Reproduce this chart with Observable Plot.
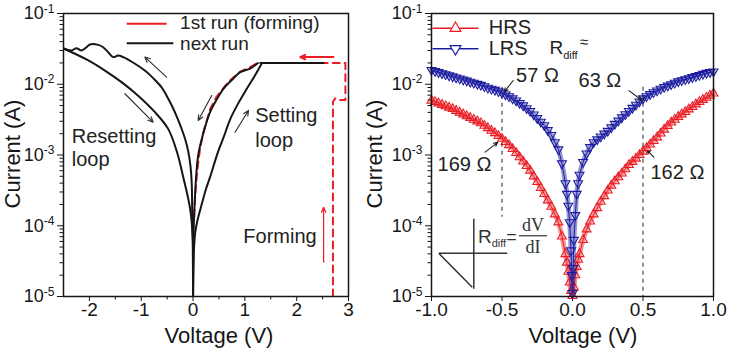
<!DOCTYPE html>
<html><head><meta charset="utf-8">
<script src="https://cdn.jsdelivr.net/npm/d3@7"></script>
<script src="https://cdn.jsdelivr.net/npm/@observablehq/plot@0.6"></script>
<style>
html,body{margin:0;padding:0;background:#fff;}
#wrap{display:flex;width:732px;height:350px;}
svg text{font-family:'Liberation Sans',Arial,sans-serif;}
</style></head><body><div id="wrap"></div>
<script>
// ================= LEFT PANEL DATA =================
const setV = [0, 0.005, 0.02, 0.04, 0.08, 0.17, 0.25, 0.33, 0.48, 0.60, 0.72, 0.88, 1.04, 1.20, 1.33];
const setI = [1.0e-5, 2.5e-5, 5.0e-5, 7.8e-5, 1.15e-4, 2.04e-4, 3.3e-4, 4.9e-4, 1.1e-3, 1.86e-3, 3.24e-3, 5.5e-3, 8.7e-3, 1.35e-2, 2.0e-2];
const compV = [1.30, 2.52];
const compI = [2.0e-2, 2.0e-2];
const retV = [1.25, 1.10, 0.91, 0.75, 0.59, 0.45, 0.33, 0.24, 0.17, 0.10, 0.06, 0.03, 0.01, 0];
const retI = [2.0e-2, 1.66e-2, 1.48e-2, 1.15e-2, 8.7e-3, 6.0e-3, 4.07e-3, 2.6e-3, 1.7e-3, 1.0e-3, 5.0e-4, 2.0e-4, 8.0e-5, 1.0e-5];
const resetUpV = [0, -0.005, -0.015, -0.025, -0.05, -0.09, -0.15, -0.22, -0.30, -0.41, -0.51, -0.61, -0.76, -0.93, -1.12, -1.348, -1.445, -1.54, -1.638, -1.735, -1.83, -1.99, -2.056, -2.153, -2.25, -2.347, -2.5];
const resetUpI = [1.0e-5, 5.0e-5, 1.1e-4, 3.9e-4, 7.0e-4, 1.1e-3, 1.66e-3, 2.34e-3, 3.3e-3, 5.0e-3, 6.9e-3, 9.1e-3, 1.2e-2, 1.56e-2, 1.95e-2, 2.42e-2, 2.55e-2, 2.42e-2, 2.84e-2, 3.34e-2, 3.6e-2, 3.65e-2, 3.34e-2, 3.0e-2, 3.24e-2, 3.0e-2, 3.2e-2];
const resetDownV = [-2.5, -2.03, -1.70, -1.38, -1.06, -0.735, -0.48, -0.31, -0.19, -0.06, -0.005, 0];
const resetDownI = [3.2e-2, 2.19e-2, 1.56e-2, 1.07e-2, 6.9e-3, 4.03e-3, 2.34e-3, 1.1e-3, 4.9e-4, 1.8e-4, 7.0e-5, 1.0e-5];
const formV = [2.70, 2.70, 2.74, 2.80, 2.94, 2.94, 1.25, 1.10, 0.91, 0.75, 0.62, 0.45, 0.33, 0.20, 0.135, 0.08, 0.04, 0.02];
const formI = [1.0e-5, 5.6e-3, 6.3e-3, 6.0e-3, 6.0e-3, 2.0e-2, 2.0e-2, 1.74e-2, 1.51e-2, 1.2e-2, 9.5e-3, 6.6e-3, 4.47e-3, 2.09e-3, 1.23e-3, 6.0e-4, 2.5e-4, 1.2e-4];
const leftLabelText = ["Resetting", "loop", "Setting", "loop", "Forming"];
const leftLabelV = [-2.34, -2.34, 1.20, 1.20, 0.97];
const leftLabelI = [1.85e-3, 8.6e-4, 3.55e-3, 1.58e-3, 7.1e-5];
const blackArrowV1 = [-0.51, -1.315, 0.36, 0.81];
const blackArrowI1 = [1.26e-2, 7.33e-3, 6.93e-3, 2.1e-3];
const blackArrowV2 = [-0.93, -0.77, 0.10, 1.07];
const blackArrowI2 = [2.42e-2, 2.91e-3, 3.08e-3, 4.26e-3];
const redArrowV1 = [2.71, 2.52];
const redArrowI1 = [2.42e-2, 3.05e-5];
const redArrowV2 = [2.07, 2.52];
const redArrowI2 = [2.42e-2, 1.82e-4];
const leftLegendText = ["1st run (forming)", "next run"];
const leftLegendV = [-0.25, -0.25];
const leftLegendI = [7.3e-2, 3.74e-2];
const leftLegendLineV = [[-1.28, -0.51], [-1.28, -0.38]];
const leftLegendLineI = [7.15e-2, 3.8e-2];
const leftXTicks = [-2, -1, 0, 1, 2, 3];
const leftXMinor = [-1.5, -0.5, 0.5, 1.5, 2.5];

// ================= RIGHT PANEL DATA =================
const hrsV = [-1.000,-0.975,-0.950,-0.925,-0.900,-0.875,-0.850,-0.825,-0.800,-0.775,-0.750,-0.725,-0.700,-0.675,-0.650,-0.625,-0.600,-0.575,-0.550,-0.525,-0.500,-0.475,-0.450,-0.425,-0.400,-0.375,-0.350,-0.325,-0.300,-0.275,-0.250,-0.225,-0.200,-0.175,-0.150,-0.125,-0.100,
  -0.075,-0.05,-0.04,-0.03,-0.02,-0.01, 0, 0.01,0.02,0.03,0.04,0.05,0.075,
  0.100,0.125,0.150,0.175,0.200,0.225,0.250,0.275,0.300,0.325,0.350,0.375,0.400,0.425,0.450,0.475,0.500,0.525,0.550,0.575,0.600,0.625,0.650,0.675,0.700,0.725,0.750,0.775,0.800,0.825,0.850,0.875,0.900,0.925,0.950,0.975,1.000];
const hrsI = [5.89e-3,5.63e-3,5.37e-3,5.13e-3,4.90e-3,4.68e-3,4.47e-3,4.22e-3,3.98e-3,3.76e-3,3.55e-3,3.35e-3,3.16e-3,2.99e-3,2.82e-3,2.60e-3,2.40e-3,2.21e-3,2.04e-3,1.86e-3,1.70e-3,1.53e-3,1.38e-3,1.22e-3,1.07e-3,9.3e-4,8.13e-4,7.0e-4,6.03e-4,5.0e-4,4.17e-4,3.43e-4,2.82e-4,2.29e-4,1.86e-4,1.45e-4,1.12e-4,
  7.08e-5,3.98e-5,3.02e-5,2.24e-5,1.58e-5,1.20e-5, 1.02e-5, 1.35e-5,2.0e-5,2.63e-5,3.31e-5,3.98e-5,6.31e-5,
  8.91e-5,1.15e-4,1.45e-4,1.78e-4,2.19e-4,2.63e-4,3.16e-4,3.7e-4,4.27e-4,4.85e-4,5.50e-4,6.3e-4,7.24e-4,8.0e-4,8.91e-4,1.0e-3,1.12e-3,1.26e-3,1.41e-3,1.58e-3,1.78e-3,2.02e-3,2.29e-3,2.57e-3,2.88e-3,3.16e-3,3.47e-3,3.76e-3,4.07e-3,4.42e-3,4.79e-3,5.2e-3,5.62e-3,6.03e-3,6.46e-3,6.92e-3,7.41e-3];
const lrsV = [-1.000,-0.975,-0.950,-0.925,-0.900,-0.875,-0.850,-0.825,-0.800,-0.775,-0.750,-0.725,-0.700,-0.675,-0.650,-0.625,-0.600,-0.575,-0.550,-0.525,-0.500,-0.475,-0.450,-0.425,-0.400,-0.375,-0.350,-0.325,-0.300,-0.275,-0.250,-0.225,-0.200,-0.175,-0.150,-0.125,-0.100,
  -0.075,-0.05,-0.04,-0.03,-0.02,-0.01,-0.005, 0, 0.005,0.01,0.02,0.03,0.04,0.05,0.075,
  0.100,0.125,0.150,0.175,0.200,0.225,0.250,0.275,0.300,0.325,0.350,0.375,0.400,0.425,0.450,0.475,0.500,0.525,0.550,0.575,0.600,0.625,0.650,0.675,0.700,0.725,0.750,0.775,0.800,0.825,0.850,0.875,0.900,0.925,0.950,0.975,1.000];
const lrsI = [1.585e-2,1.53e-2,1.479e-2,1.43e-2,1.380e-2,1.33e-2,1.288e-2,1.245e-2,1.202e-2,1.16e-2,1.122e-2,1.085e-2,1.047e-2,1.01e-2,9.77e-3,9.33e-3,8.91e-3,8.6e-3,8.32e-3,7.94e-3,7.59e-3,7.16e-3,6.76e-3,6.31e-3,5.89e-3,5.43e-3,5.01e-3,4.57e-3,4.17e-3,3.72e-3,3.31e-3,2.95e-3,2.63e-3,2.24e-3,1.91e-3,1.51e-3,1.20e-3,
  7.59e-4,3.98e-4,2.82e-4,1.91e-4,1.12e-4,4.47e-5,2.0e-5, 1.12e-5, 2.51e-5,6.31e-5,1.41e-4,2.82e-4,3.98e-4,5.25e-4,7.94e-4,
  1.05e-3,1.29e-3,1.51e-3,1.66e-3,1.82e-3,2.0e-3,2.19e-3,2.45e-3,2.75e-3,3.05e-3,3.39e-3,3.76e-3,4.17e-3,4.63e-3,5.13e-3,5.7e-3,6.31e-3,6.76e-3,7.24e-3,7.68e-3,8.13e-3,8.6e-3,9.12e-3,9.55e-3,1.00e-2,1.047e-2,1.096e-2,1.135e-2,1.175e-2,1.215e-2,1.259e-2,1.30e-2,1.349e-2,1.40e-2,1.445e-2,1.48e-2,1.514e-2];
const dashV = [-0.5, 0.5];
const dashTopI = [9.1e-3, 9.1e-3];
const dashBotI = [1.32e-4, 1.0e-5];
const rLabelText = ["57 Ω", "63 Ω", "169 Ω", "162 Ω"];
const rLabelV = [-0.40, 0.043, -0.957, 0.553];
const rLabelI = [1.33e-2, 1.14e-2, 7.2e-4, 5.6e-4];
const rArrowV1 = [-0.42, 0.40, -0.62, 0.577];
const rArrowI1 = [1.13e-2, 8.13e-3, 1.1e-3, 9.3e-4];
const rArrowV2 = [-0.485, 0.494, -0.53, 0.53];
const rArrowI2 = [7.76e-3, 5.89e-3, 1.51e-3, 1.15e-3];
const rLegendText = ["HRS", "LRS"];
const rLegendV = [-0.594, -0.594];
const rLegendI = [6.3e-2, 3.18e-2];
const rLegendLineV = [-0.993, -0.667];
const rLegendMarkV = -0.83;
const rLegendLineI = [6.2e-2, 3.17e-2];
const rdiffAnchor = {V: -0.16, I: 2.6e-2};
const insetLineV1 = [-0.70, -0.948, -0.948];
const insetLineI1 = [1.26e-4, 4.07e-5, 4.07e-5];
const insetLineV2 = [-0.70, -0.463, -0.711];
const insetLineI2 = [1.29e-5, 4.07e-5, 1.35e-5];
const insetTextAnchor = {V: -0.667, I: 5.6e-5};
const insetFracV = [-0.376, -0.177];
const insetFracI = 7.1e-5;
const rightXTicks = [-1.0, -0.5, 0.0, 0.5, 1.0];
const yMajor = [1e-5, 1e-4, 1e-3, 1e-2, 1e-1];

// ================= helpers =================
const RED = "#ea1d25", BLUE = "#1c1ca0", INK = "#161616";
const yMinor = [];
for (let k = 0; k < yMajor.length - 1; k++) for (let m = 2; m <= 9; m++) yMinor.push(yMajor[k] * m);
const pts = (V, I) => V.map((v, i) => ({V: v, I: I[i]}));
const yFmt = d => "10|" + Math.round(Math.log10(d));

function yAxes() {
  return [
    Plot.axisY({ticks: yMajor, tickFormat: yFmt, tickSize: 6, tickPadding: 3, fontSize: 18, label: null}),
    Plot.axisY({ticks: yMinor, tickFormat: () => "", tickSize: 3.5, label: null})
  ];
}
function fixSvg(svg, xLabelCenter, yLabelX) {
  const s = d3.select(svg);
  s.selectAll("text").each(function () {
    const m = /^10\|(-?\d+)$/.exec(this.textContent);
    if (m) {
      const t = d3.select(this);
      t.text("10");
      t.append("tspan").attr("dy", "-0.55em").attr("font-size", "12px").text(m[1]);
    }
  });
  s.append("text").attr("x", xLabelCenter).attr("y", 343).attr("text-anchor", "middle")
    .attr("font-size", 22).attr("fill", INK).text("Voltage (V)");
  s.append("text").attr("transform", `translate(${yLabelX},154) rotate(-90)`).attr("text-anchor", "middle")
    .attr("font-size", 22).attr("fill", INK).text("Current (A)");
}
const common = {
  width: 366, height: 350, marginTop: 13, marginBottom: 54,
  style: {background: "white", color: INK, fontFamily: "'Liberation Sans', Arial, sans-serif", overflow: "visible"}
};

// ================= LEFT PLOT =================
const labelsL = leftLabelText.map((t, i) => ({t, V: leftLabelV[i], I: leftLabelI[i]}));
const arrowsL = blackArrowV1.map((v, i) => ({x1: v, y1: blackArrowI1[i], x2: blackArrowV2[i], y2: blackArrowI2[i]}));
const arrowsR = redArrowV1.map((v, i) => ({x1: v, y1: redArrowI1[i], x2: redArrowV2[i], y2: redArrowI2[i]}));
const legL = leftLegendText.map((t, i) => ({t, V: leftLegendV[i], I: leftLegendI[i]}));
const legLines = leftLegendLineV.map((vv, i) => ({x1: vv[0], x2: vv[1], y: leftLegendLineI[i], k: i}));

const left = Plot.plot({
  ...common, marginLeft: 63, marginRight: 18,
  x: {domain: [-2.5, 3]},
  y: {type: "log", domain: [1e-5, 1e-1]},
  marks: [
    Plot.axisX({ticks: leftXTicks, tickFormat: d => String(d), tickSize: 5, tickPadding: 1, fontSize: 19, label: null}),
    Plot.axisX({ticks: leftXMinor, tickFormat: () => "", tickSize: 3.5, label: null}),
    ...yAxes(),
    Plot.line(pts(formV, formI), {x: "V", y: "I", stroke: RED, strokeWidth: 2, strokeDasharray: "7,5", clip: true}),
    Plot.line(pts(setV, setI), {x: "V", y: "I", stroke: INK, strokeWidth: 2, curve: "catmull-rom", clip: true}),
    Plot.line(pts(compV, compI), {x: "V", y: "I", stroke: INK, strokeWidth: 2}),
    Plot.line(pts(retV, retI), {x: "V", y: "I", stroke: INK, strokeWidth: 2, curve: "catmull-rom", clip: true}),
    Plot.line(pts(resetUpV, resetUpI), {x: "V", y: "I", stroke: INK, strokeWidth: 2, curve: "catmull-rom", clip: true}),
    Plot.line(pts(resetDownV, resetDownI), {x: "V", y: "I", stroke: INK, strokeWidth: 2, curve: "catmull-rom", clip: true}),
    Plot.arrow(arrowsL, {x1: "x1", y1: "y1", x2: "x2", y2: "y2", stroke: "#333", strokeWidth: 1.2, headLength: 7, headAngle: 50}),
    Plot.arrow(arrowsR, {x1: "x1", y1: "y1", x2: "x2", y2: "y2", stroke: RED, strokeWidth: d => d.x1 === d.x2 ? 1.2 : 2, headLength: 8, headAngle: 50}),
    Plot.text(labelsL, {x: "V", y: "I", text: "t", textAnchor: "start", fontSize: 20, fill: "#222"}),
    Plot.link(legLines, {x1: "x1", x2: "x2", y1: "y", y2: "y", stroke: d => d.k === 0 ? RED : INK, strokeWidth: 2,
      strokeDasharray: d => d.k === 0 ? "8,5" : null}),
    Plot.text(legL, {x: "V", y: "I", text: "t", textAnchor: "start", fontSize: 19, fill: "#222"}),
    Plot.frame({stroke: INK, strokeWidth: 1.5})
  ]
});
fixSvg(left, 219, 20);

// ================= RIGHT PLOT =================
const hrs = pts(hrsV, hrsI), lrs = pts(lrsV, lrsI);
const dashes = dashV.map((v, i) => ({V: v, y1: dashTopI[i], y2: dashBotI[i]}));
const rLabels = rLabelText.map((t, i) => ({t, V: rLabelV[i], I: rLabelI[i]}));
const rArrows = rArrowV1.map((v, i) => ({x1: v, y1: rArrowI1[i], x2: rArrowV2[i], y2: rArrowI2[i]}));
const rLeg = rLegendText.map((t, i) => ({t, V: rLegendV[i], I: rLegendI[i]}));
const rLegLines = rLegendLineI.map((y, i) => ({x1: rLegendLineV[0], x2: rLegendLineV[1], y, k: i}));
const rLegMarks = rLegendLineI.map((y, i) => ({V: rLegendMarkV, I: y, k: i}));
const insetLines = insetLineV1.map((v, i) => ({x1: v, y1: insetLineI1[i], x2: insetLineV2[i], y2: insetLineI2[i]}));

const right = Plot.plot({
  ...common, marginLeft: 65, marginRight: 19,
  x: {domain: [-1, 1]},
  y: {type: "log", domain: [1e-5, 1e-1]},
  marks: [
    Plot.axisX({ticks: rightXTicks, tickFormat: d => d.toFixed(1), tickSize: 5, tickPadding: 1, fontSize: 19, label: null}),
    ...yAxes(),
    Plot.ruleX(dashes, {x: "V", y1: "y1", y2: "y2", stroke: "#555", strokeWidth: 1.3, strokeDasharray: "4,4"}),
    Plot.line(hrs, {x: "V", y: "I", stroke: RED, strokeWidth: 5, strokeOpacity: 0.45, curve: "catmull-rom"}),
    Plot.line(hrs, {x: "V", y: "I", stroke: RED, strokeWidth: 1}),
    Plot.dot(hrs, {x: "V", y: "I", symbol: "triangle", r: 3.3, stroke: RED, strokeWidth: 1.1, fill: "none"}),
    Plot.line(lrs, {x: "V", y: "I", stroke: BLUE, strokeWidth: 5, strokeOpacity: 0.45, curve: "catmull-rom"}),
    Plot.line(lrs, {x: "V", y: "I", stroke: BLUE, strokeWidth: 1}),
    Plot.dot(lrs, {x: "V", y: "I", symbol: "triangle", rotate: 180, r: 3.3, stroke: BLUE, strokeWidth: 1.1, fill: "none"}),
    Plot.arrow(rArrows, {x1: "x1", y1: "y1", x2: "x2", y2: "y2", stroke: "#222", strokeWidth: 1.1, headLength: 6, headAngle: 50}),
    Plot.text(rLabels, {x: "V", y: "I", text: "t", textAnchor: "start", fontSize: 20, fill: "#222"}),
    Plot.link(rLegLines, {x1: "x1", x2: "x2", y1: "y", y2: "y", stroke: d => d.k === 0 ? RED : BLUE, strokeWidth: 1.5}),
    Plot.dot(rLegMarks, {x: "V", y: "I", symbol: "triangle", rotate: d => d.k === 0 ? 0 : 180, r: 4, fill: "white",
      stroke: d => d.k === 0 ? RED : BLUE, strokeWidth: 1.2}),
    Plot.text(rLeg, {x: "V", y: "I", text: "t", textAnchor: "start", fontSize: 20, fill: "#222"}),
    Plot.link(insetLines, {x1: "x1", y1: "y1", x2: "x2", y2: "y2", stroke: "#333", strokeWidth: 1.5}),
    Plot.frame({stroke: INK, strokeWidth: 1.5})
  ]
});
fixSvg(right, 217, 16);

// composite texts placed through the plot's own scales
(function () {
  const sx = right.scale("x"), sy = right.scale("y");
  const s = d3.select(right);
  const t1 = s.append("text").attr("x", sx.apply(rdiffAnchor.V)).attr("y", sy.apply(rdiffAnchor.I))
    .attr("text-anchor", "start").attr("font-size", 19).attr("fill", "#222");
  t1.append("tspan").text("R");
  t1.append("tspan").attr("font-size", 11).attr("dy", 5).text("diff");
  t1.append("tspan").attr("font-size", 15).attr("dy", -12).attr("dx", 2).text("≈");
  const ix = sx.apply(insetTextAnchor.V), iy = sy.apply(insetTextAnchor.I);
  const t2 = s.append("text").attr("x", ix).attr("y", iy).attr("text-anchor", "start").attr("font-size", 19).attr("fill", "#333");
  t2.append("tspan").text("R");
  t2.append("tspan").attr("font-size", 11).attr("dy", 4).text("diff");
  t2.append("tspan").attr("font-size", 18).attr("dy", -4).text("=");
  const fx1 = sx.apply(insetFracV[0]), fx2 = sx.apply(insetFracV[1]), fy = sy.apply(insetFracI);
  s.append("line").attr("x1", fx1).attr("x2", fx2).attr("y1", fy).attr("y2", fy).attr("stroke", "#333").attr("stroke-width", 1.2);
  s.append("text").attr("x", (fx1 + fx2) / 2).attr("y", fy - 5).attr("text-anchor", "middle")
    .attr("font-size", 18).attr("fill", "#333").style("font-family", "'Liberation Serif', 'Times New Roman', serif").text("dV");
  s.append("text").attr("x", (fx1 + fx2) / 2).attr("y", fy + 17).attr("text-anchor", "middle")
    .attr("font-size", 18).attr("fill", "#333").style("font-family", "'Liberation Serif', 'Times New Roman', serif").text("dI");
})();

document.getElementById("wrap").append(left, right);
</script></body></html>
